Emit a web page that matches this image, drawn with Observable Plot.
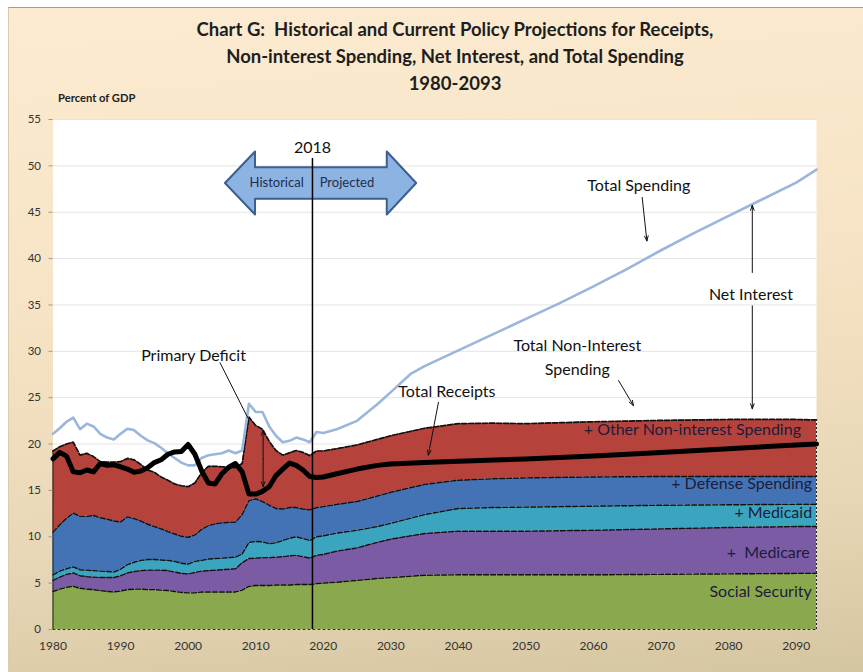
<!DOCTYPE html>
<html><head><meta charset="utf-8">
<script src="https://cdn.jsdelivr.net/npm/d3@7"></script>
<script src="https://cdn.jsdelivr.net/npm/@observablehq/plot@0.6"></script>
<style>
html,body{margin:0;padding:0;background:#fff;}
#page{position:relative;width:863px;height:672px;overflow:hidden;font-family:Lato,"Open Sans",sans-serif;}
#panel{position:absolute;left:8px;top:7px;right:0;bottom:0;background:linear-gradient(175deg,#FCEBD1 0%,#F7E4C6 40%,#E8D7B6 75%,#D5C6A2 100%);border-top:1px solid #9e9e9e;border-left:1px solid #d8ccb0;}
#title{position:absolute;left:0;width:910px;top:16px;text-align:center;font-weight:700;font-size:18.5px;line-height:27px;color:#1e1e1e;}
#ylab{position:absolute;left:58px;top:91px;font-weight:700;font-size:11.2px;color:#222;}
#chart{position:absolute;left:0;top:105px;}
</style></head>
<body><div id="page"><div id="panel"></div>
<div id="title">Chart G:&nbsp; Historical and Current Policy Projections for Receipts,<br>Non-interest Spending, Net Interest, and Total Spending<br>1980-2093</div>
<div id="ylab">Percent of GDP</div>
<div id="chart"></div></div>
<script>
// Years for the stacked spending bands (historical 1980-2018, then projection points)
const bandYears = [1980,1981,1982,1983,1984,1985,1986,1987,1988,1989,1990,1991,1992,1993,1994,1995,1996,1997,1998,1999,2000,2001,2002,2003,2004,2005,2006,2007,2008,2009,2010,2011,2012,2013,2014,2015,2016,2017,2018,
  2019,2020,2022,2025,2028,2030,2035,2040,2045,2050,2060,2070,2080,2090,2093];
// Cumulative top of each band (percent of GDP)
const socialSecurityTop = [4.1,4.35,4.55,4.65,4.45,4.35,4.3,4.2,4.1,4.05,4.15,4.3,4.35,4.35,4.3,4.3,4.25,4.2,4.1,4.0,3.95,3.95,4.05,4.05,4.05,4.05,4.05,4.05,4.25,4.65,4.75,4.75,4.75,4.8,4.8,4.8,4.85,4.85,4.85,
  4.95,5.0,5.1,5.3,5.5,5.6,5.85,5.9,5.9,5.9,5.9,5.95,6.0,6.05,6.05];
const medicareTop = [5.3,5.65,5.95,6.1,5.8,5.7,5.65,5.6,5.6,5.6,5.8,6.1,6.25,6.35,6.4,6.4,6.4,6.35,6.2,6.05,6.0,6.15,6.3,6.35,6.4,6.45,6.5,6.55,7.2,7.65,7.7,7.75,7.75,7.8,7.85,7.95,8.0,7.85,7.7,
  8.0,8.1,8.45,8.8,9.4,9.75,10.35,10.6,10.6,10.6,10.7,10.85,11.0,11.1,11.1];
const medicaidTop = [5.9,6.3,6.55,6.75,6.45,6.4,6.35,6.3,6.25,6.2,6.5,7.0,7.25,7.45,7.55,7.55,7.5,7.45,7.35,7.15,7.05,7.35,7.45,7.6,7.65,7.7,7.75,7.8,8.15,9.4,9.5,9.45,9.25,9.35,9.6,9.85,10.0,9.8,9.6,
  10.0,10.1,10.4,10.7,11.1,11.45,12.4,13.05,13.15,13.2,13.3,13.4,13.45,13.5,13.5];
const defenseTop = [10.5,11.3,12.0,12.55,12.2,12.2,12.3,12.05,11.9,11.7,11.6,12.15,11.95,11.7,11.35,11.1,10.85,10.55,10.3,10.05,9.95,10.2,10.8,11.2,11.4,11.5,11.55,11.6,12.4,13.9,14.1,13.8,13.4,13.05,13.0,13.15,13.15,13.0,12.9,
  13.15,13.25,13.5,13.8,14.4,14.8,15.65,16.1,16.25,16.35,16.45,16.5,16.5,16.5,16.5];
const otherNonInterestTop = [19.25,19.7,20.0,20.2,18.8,19.0,18.65,18.1,18.05,18.05,18.1,18.45,18.3,17.8,17.2,16.95,16.45,16.1,15.7,15.5,15.4,15.8,16.9,17.6,17.6,17.55,17.5,17.45,17.9,22.9,22.0,21.6,20.3,19.3,18.8,19.05,19.3,19.1,18.75,
  19.25,19.25,19.5,19.9,20.5,20.9,21.7,22.2,22.25,22.2,22.4,22.55,22.65,22.65,22.6];

// Total receipts
const receiptYears = [1980,1981,1982,1983,1984,1985,1986,1987,1988,1989,1990,1991,1992,1993,1994,1995,1996,1997,1998,1999,2000,2001,2002,2003,2004,2005,2006,2007,2008,2009,2010,2011,2012,2013,2014,2015,2016,2017,2018,
  2019,2020,2022,2025,2028,2030,2035,2040,2050,2060,2070,2080,2090,2093];
const receipts = [18.4,19.1,18.7,17.0,16.9,17.2,17.0,17.9,17.7,17.75,17.55,17.3,16.95,17.1,17.45,18.0,18.3,18.9,19.15,19.2,19.95,18.9,17.1,15.8,15.7,16.8,17.5,17.9,17.0,14.6,14.6,14.9,15.4,16.6,17.3,17.95,17.7,17.2,16.5,
  16.4,16.45,16.8,17.3,17.7,17.85,18.0,18.15,18.4,18.7,19.1,19.5,19.9,20.0];

// Total spending
const spendingYears = [1980,1981,1982,1983,1984,1985,1986,1987,1988,1989,1990,1991,1992,1993,1994,1995,1996,1997,1998,1999,2000,2001,2002,2003,2004,2005,2006,2007,2008,2009,2010,2011,2012,2013,2014,2015,2016,2017,2018,
  2019,2020,2022,2025,2028,2030,2033,2035,2040,2045,2050,2055,2060,2065,2070,2075,2080,2085,2090,2093];
const totalSpending = [21.1,21.7,22.4,22.85,21.6,22.2,21.9,21.1,20.7,20.5,21.1,21.65,21.5,20.9,20.4,20.1,19.6,19.0,18.5,18.0,17.7,17.7,18.5,18.8,18.9,19.0,19.3,19.0,19.3,24.35,23.45,23.45,21.9,20.9,20.2,20.35,20.7,20.5,20.2,
  21.3,21.2,21.6,22.5,24.3,25.6,27.6,28.4,30.1,31.8,33.5,35.2,37.0,38.9,40.9,42.8,44.6,46.4,48.2,49.6];

const yTicks = [0,5,10,15,20,25,30,35,40,45,50,55];
const xTicks = [1980,1990,2000,2010,2020,2030,2040,2050,2060,2070,2080,2090];
const bandNames = ["Social Security","+  Medicare","+ Medicaid","+ Defense Spending","+ Other Non-interest Spending"];
const divider = 2018.4;

// ---- build tables ----
const tops = [socialSecurityTop, medicareTop, medicaidTop, defenseTop, otherNonInterestTop];
const bandColors = ["#8AA94F","#7A5BA4","#3BA5C0","#4473B5","#B5433C"];
const bandRows = tops.map((t, i) => bandYears.map((yr, j) => ({band: bandNames[i], year: yr, y1: i ? tops[i-1][j] : 0, y2: t[j]})));
const recRows = receiptYears.map((yr, i) => ({year: yr, v: receipts[i]}));
const spRows = spendingYears.map((yr, i) => ({year: yr, v: totalSpending[i]}));

// annotation layout (data coordinates)
const blockArrow = [[2005.45,48.15],[2009.9,51.55],[2009.9,49.85],[2029.4,49.85],[2029.4,51.55],[2033.75,48.15],[2029.4,44.75],[2029.4,46.45],[2009.9,46.45],[2009.9,44.75],[2005.45,48.15]].map(([x,y])=>({x,y}));
const notes = [
  {t:"Primary Deficit", x:2000.8, y:29.75},
  {t:"Total Spending", x:2066.7, y:48.1},
  {t:"Net Interest", x:2083.3, y:36.4},
  {t:"Total Non-Interest\nSpending", x:2057.6, y:29.55},
  {t:"Total Receipts", x:2038.3, y:25.95}
];
const bandLabels = [
  {t:bandNames[4], x:2090.7, y:21.5},
  {t:bandNames[3], x:2092.35, y:15.75},
  {t:bandNames[2], x:2092.35, y:12.6},
  {t:bandNames[1], x:2092.0, y:8.3},
  {t:bandNames[0], x:2092.3, y:4.05}
];
const pointers = [
  {x1:2004.7, y1:28.8, x2:2008.85, y2:22.8, head:false},
  {x1:2011.1, y1:18.4, x2:2011.1, y2:21.5, head:true},
  {x1:2011.1, y1:18.4, x2:2011.1, y2:15.4, head:true},
  {x1:2067.2, y1:46.6, x2:2067.9, y2:41.9, head:true},
  {x1:2083.5, y1:38.5, x2:2083.5, y2:45.75, head:true},
  {x1:2083.5, y1:34.9, x2:2083.5, y2:23.8, head:true},
  {x1:2063.7, y1:26.85, x2:2065.9, y2:24.15, head:true},
  {x1:2037.05, y1:24.5, x2:2035.55, y2:18.8, head:true}
];

const marks = [
  Plot.frame({fill:"white", stroke:"none"}),
  Plot.gridY(yTicks.filter(d=>d>0), {stroke:"#e4e4e4", strokeOpacity:1}),
  ...bandRows.map((rows,i) => Plot.areaY(rows, {x:"year", y1:"y1", y2:"y2", fill:bandColors[i], fillOpacity:1})),
  ...bandRows.slice(0,4).map(rows => Plot.lineY(rows, {x:"year", y:"y2", stroke:"#111", strokeWidth:1.4, strokeDasharray:"5,2"})),
  Plot.lineY(bandRows[4], {x:"year", y:"y2", stroke:"#111", strokeWidth:1.7, strokeDasharray:"5,2"}),
  Plot.ruleY([0], {stroke:"#333", strokeWidth:1.2, strokeDasharray:"3,2"}),
  Plot.ruleX([bandYears[bandYears.length-1]], {y1:0, y2:otherNonInterestTop[otherNonInterestTop.length-1], stroke:"#222", strokeWidth:1, strokeDasharray:"2,2"}),
  Plot.ruleX([bandYears[0]], {y1:0, y2:otherNonInterestTop[0], stroke:"#222", strokeWidth:1}),
  Plot.line(spRows, {x:"year", y:"v", stroke:"#9BB6DC", strokeWidth:2.6}),
  Plot.line(recRows, {x:"year", y:"v", stroke:"#000", strokeWidth:5, strokeLinejoin:"round"}),
  Plot.line(blockArrow, {x:"x", y:"y", fill:"#8DB3E2", stroke:"#3B5F8E", strokeWidth:2, curve:"linear"}),
  Plot.ruleX([divider], {y1:0, y2:50.8, stroke:"#000", strokeWidth:1.5}),
  Plot.text(["2018"], {x:divider, y:51.9, fontSize:16, fill:"#111"}),
  Plot.text([{t:"Historical", x:2013.1},{t:"Projected", x:2023.5}], {x:"x", y:()=>48.15, text:"t", fontSize:13, fill:"#1c2f4d"}),
  Plot.text(notes, {x:"x", y:"y", text:"t", fontSize:16, fill:"#111", lineHeight:1.5}),
  Plot.text(bandLabels, {x:"x", y:"y", text:"t", fontSize:16, fill:"#1c1c3a", textAnchor:"end"}),
  Plot.arrow(pointers.filter(d=>d.head), {x1:"x1", y1:"y1", x2:"x2", y2:"y2", stroke:"#111", strokeWidth:1, headLength:8, headAngle:40}),
  Plot.link(pointers.filter(d=>!d.head), {x1:"x1", y1:"y1", x2:"x2", y2:"y2", stroke:"#111", strokeWidth:1}),
  Plot.axisY({ticks:yTicks, tickSize:4, tickPadding:8, label:null, fontSize:11.5, stroke:"#999", fill:"#333"}),
  Plot.axisX({ticks:xTicks, tickFormat:d=>String(d), tickSize:0, tickPadding:12, label:null, fontSize:12, fill:"#333"})
];

const plot = Plot.plot({
  width: 863, height: 567,
  marginLeft: 52.5, marginRight: 47, marginTop: 14, marginBottom: 43,
  x: {domain:[1980,2093]},
  y: {domain:[0,55]},
  style: {background:"transparent", fontFamily:"Lato, 'Open Sans', sans-serif", overflow:"visible"},
  marks
});
document.getElementById("chart").appendChild(plot);
</script></body></html>
